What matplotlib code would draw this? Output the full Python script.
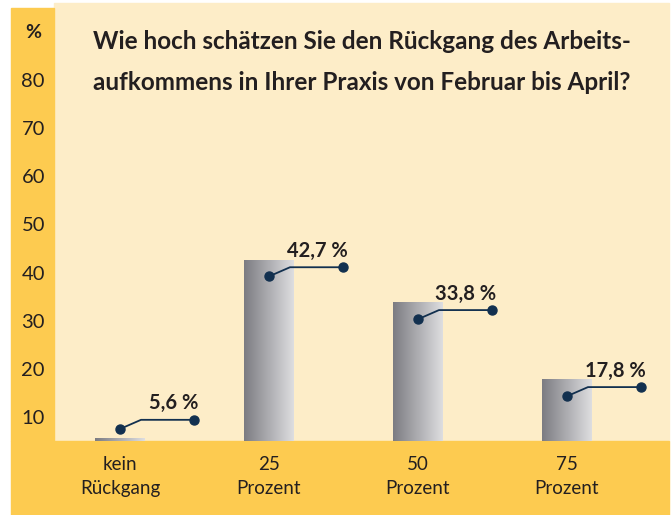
import numpy as np
import matplotlib.pyplot as plt
from matplotlib.colors import LinearSegmentedColormap
from matplotlib.patches import Rectangle

# Daten
categories = ['kein\nRückgang', '25\nProzent', '50\nProzent', '75\nProzent']
values = [5.6, 42.7, 33.8, 17.8]
value_labels = ['5,6 %', '42,7 %', '33,8 %', '17,8 %']
y_ticks = [10, 20, 30, 40, 50, 60, 70, 80]
title = 'Wie hoch schätzen Sie den Rückgang des Arbeits-\naufkommens in Ihrer Praxis von Februar bis April?'

light = '#FDEDC8'
yellow = '#FDCB50'
dark = '#231F20'
navy = '#12304F'

W, H = 671, 515
fig = plt.figure(figsize=(W / 100, H / 100), dpi=100)
fig.patch.set_facecolor('white')

def fx(px):
    return px / W

def fy(py):
    return 1 - py / H

# Hintergrundflächen
fig.patches.append(Rectangle((fx(54), fy(441)), fx(669) - fx(54), fy(3) - fy(441),
                             transform=fig.transFigure, color=light, zorder=-2))
fig.patches.append(Rectangle((fx(11), fy(441)), fx(54) - fx(11), fy(8) - fy(441),
                             transform=fig.transFigure, color=yellow, zorder=-2))
fig.patches.append(Rectangle((fx(11), 0), fx(669) - fx(11), fy(441),
                             transform=fig.transFigure, color=yellow, zorder=-2))

ax = fig.add_axes([fx(54), fy(441), fx(669) - fx(54), fy(3) - fy(441)])
ax.set_zorder(1)
ax.set_facecolor('none')
for s in ax.spines.values():
    s.set_visible(False)

ymin, ymax = 5.0, 96.0
x = np.arange(len(categories))
bar_w = 0.33
bars = ax.bar(x, values, width=bar_w, color='none', zorder=2)

# Farbverlauf in den Balken (nur im sichtbaren Bereich)
grey_cmap = LinearSegmentedColormap.from_list('grau', ['#7C7C82', '#DEDEE0'])
grad = np.linspace(0, 1, 256).reshape(1, -1)
for b in bars:
    im = ax.imshow(grad, cmap=grey_cmap, aspect='auto', zorder=2,
                   extent=(b.get_x(), b.get_x() + b.get_width(), ymin, b.get_height()))
    im.set_clip_path(b)

ax.set_xlim(-0.443, 3.685)
ax.set_ylim(ymin, ymax)

# Achsenbeschriftung
ax.set_yticks(y_ticks)
ax.set_yticklabels([str(t) for t in y_ticks], fontsize=14.5, color=dark, family='Lato')
for lab in ax.get_yticklabels():
    lab.set_ha('center')
ax.tick_params(axis='y', length=0, pad=15)
ax.set_xticks(x)
ax.set_xticklabels(categories, fontsize=13.5, color=dark, family='Lato', linespacing=1.5)
ax.tick_params(axis='x', length=0, pad=11)

fig.text(fx(33), fy(33), '%', ha='center', va='center', fontsize=14,
         fontweight='bold', color=dark, family='Lato')
fig.text(fx(362), fy(30), title, ha='center', va='top', fontsize=17.5,
         fontweight='bold', color=dark, family='Lato', linespacing=1.95)

# Wertemarken mit Knicklinie
for xi, v, lab in zip(x, values, value_labels):
    ys = max(v - 3.5, 7.5)
    xb, yb = xi + 0.141, ys + 1.9
    xe = xi + 0.50
    ax.plot([xi, xb, xe], [ys, yb, yb], color=navy, lw=1.3, zorder=3)
    ax.plot([xi, xe], [ys, yb], 'o', color=navy, ms=6.5, zorder=4)
    ax.annotate(lab, (xe, yb), xytext=(3, 7.5), textcoords='offset points',
                ha='right', va='baseline', fontsize=14.5, fontweight='bold',
                color=dark, family='Lato', zorder=5)

fig.savefig('out.png', dpi=100, facecolor=fig.get_facecolor())
